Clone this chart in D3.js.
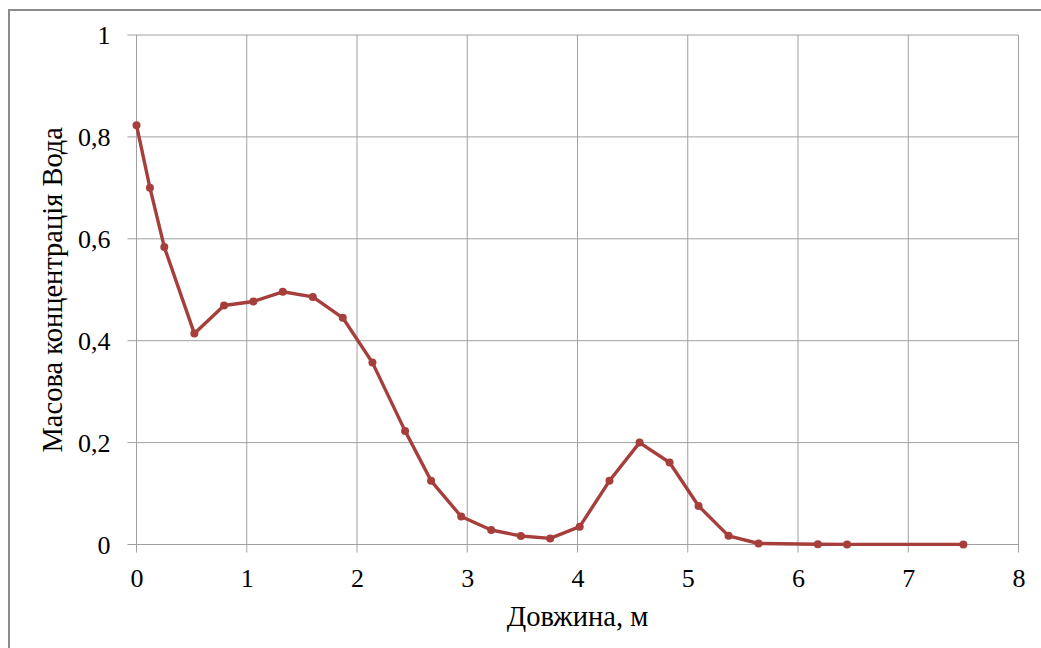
<!DOCTYPE html>
<html>
<head>
<meta charset="utf-8">
<script src="https://cdn.jsdelivr.net/npm/d3@7"></script>
<style>
  html, body { margin: 0; padding: 0; background: #fff; }
  svg { display: block; }
</style>
</head>
<body>
<div id="chart"></div>
<script>
// length along the pipe, m
const lengthM = [0, 0.122, 0.252, 0.525, 0.794, 1.06, 1.327, 1.599, 1.871, 2.14, 2.436, 2.672,
  2.945, 3.217, 3.486, 3.752, 4.02, 4.29, 4.563, 4.835, 5.098, 5.37, 5.642, 6.18, 6.445, 7.5];
// mass fraction of water
const waterFrac = [0.823, 0.700, 0.584, 0.414, 0.469, 0.477, 0.496, 0.486, 0.445, 0.357, 0.223, 0.125,
  0.055, 0.0285, 0.0167, 0.012, 0.035, 0.125, 0.200, 0.161, 0.0756, 0.017, 0.002, 0.0005, 0.0002, 0.0002];
const xTicks = [0, 1, 2, 3, 4, 5, 6, 7, 8];
const yTicks = [0, 0.2, 0.4, 0.6, 0.8, 1];

const W = 1041, H = 648;
const m = { left: 136.5, top: 35, right: W - 1018.5, bottom: H - 544.5 };
const font = '"Liberation Serif", "Times New Roman", serif';

const svg = d3.select('#chart').append('svg')
  .attr('width', W).attr('height', H);

// outer chart frame (runs off the right/bottom of the picture)
svg.append('rect')
  .attr('x', 9).attr('y', 10)
  .attr('width', W + 20).attr('height', H + 20)
  .attr('fill', 'none').attr('stroke', '#8c8c8c').attr('stroke-width', 2);

const x = d3.scaleLinear().domain([0, 8]).range([m.left, W - m.right]);
const y = d3.scaleLinear().domain([0, 1]).range([H - m.bottom, m.top]);

const fmt = d => d3.format('.1f')(d).replace('.', ',').replace(/,0$/, '');

// grid
svg.append('g').selectAll('line').data(xTicks).join('line')
  .attr('x1', d => x(d)).attr('x2', d => x(d))
  .attr('y1', y(1)).attr('y2', y(0) + 8)
  .attr('stroke', '#a0a0a0').attr('stroke-width', 1);
svg.append('g').selectAll('line').data(yTicks).join('line')
  .attr('x1', x(0) - 9).attr('x2', x(8))
  .attr('y1', d => y(d)).attr('y2', d => y(d))
  .attr('stroke', '#a0a0a0').attr('stroke-width', 1);

// axes labels
svg.append('g')
  .attr('transform', `translate(0,${y(0)})`)
  .call(d3.axisBottom(x).tickValues(xTicks).tickFormat(d3.format('d')).tickSize(0).tickPadding(42.5))
  .call(g => g.select('.domain').remove())
  .call(g => g.selectAll('text').attr('font-family', font).attr('font-size', '26px').attr('fill', '#000').attr('dy', 0));

svg.append('g')
  .attr('transform', `translate(${x(0)},0)`)
  .call(d3.axisLeft(y).tickValues(yTicks).tickFormat(fmt).tickSize(0).tickPadding(26))
  .call(g => g.select('.domain').remove())
  .call(g => g.selectAll('text').attr('font-family', font).attr('font-size', '26px').attr('fill', '#000').attr('dy', '0.33em'));

svg.append('text')
  .attr('x', (x(0) + x(8)) / 2).attr('y', 626)
  .attr('text-anchor', 'middle')
  .attr('font-family', font).attr('font-size', '28.5px')
  .text('Довжина, м');

svg.append('text')
  .attr('transform', `translate(62,${(y(0) + y(1)) / 2}) rotate(-90)`)
  .attr('text-anchor', 'middle')
  .attr('font-family', font).attr('font-size', '28.5px')
  .text('Масова концентрація Вода');

// series
const pts = lengthM.map((v, i) => [v, waterFrac[i]]);
const red = '#a63f3c';
svg.append('path')
  .datum(pts)
  .attr('d', d3.line().x(d => x(d[0])).y(d => y(d[1])))
  .attr('fill', 'none').attr('stroke', red).attr('stroke-width', 3.4)
  .attr('stroke-linejoin', 'round');
svg.append('g').selectAll('circle').data(pts).join('circle')
  .attr('cx', d => x(d[0])).attr('cy', d => y(d[1]))
  .attr('r', 4).attr('fill', red);
</script>
</body>
</html>
